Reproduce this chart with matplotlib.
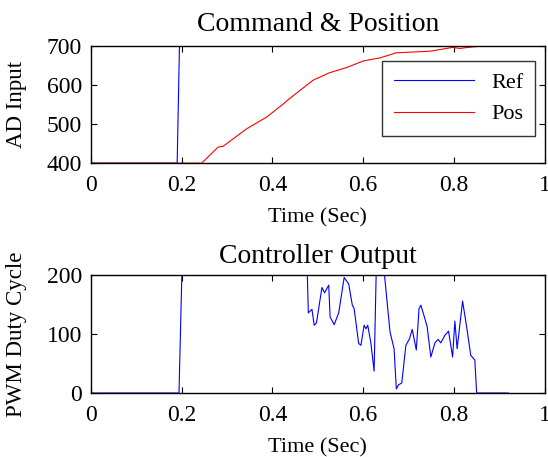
import matplotlib
matplotlib.use("Agg")
import matplotlib.pyplot as plt

plt.rcParams['font.family'] = ['Liberation Serif', 'DejaVu Serif']
plt.rcParams['mathtext.fontset'] = 'stix'

# Command & Position data
ref_t = [0, 0.19, 0.195, 0.85]
ref_y = [400, 400, 700, 700]

pos_t = [0, 0.244, 0.280, 0.291, 0.343, 0.387, 0.424, 0.435, 0.460, 0.490,
         0.526, 0.563, 0.600, 0.637, 0.673, 0.747, 0.798, 0.813, 0.831, 0.850]
pos_y = [400, 400, 441, 443, 488, 518, 552, 563, 586, 613,
         632, 645, 662, 670, 683, 687, 697, 694, 697, 699]

# Controller output data
pwm_t = [0, 0.194, 0.202, 0.475, 0.479, 0.487, 0.492, 0.497, 0.509, 0.515,
         0.524, 0.527, 0.536, 0.546, 0.558, 0.568, 0.576, 0.580, 0.590, 0.595,
         0.602, 0.606, 0.610, 0.617, 0.624, 0.630, 0.640, 0.659, 0.668, 0.673,
         0.678, 0.685, 0.694, 0.702, 0.708, 0.717, 0.723, 0.727, 0.736, 0.741,
         0.749, 0.758, 0.765, 0.771, 0.780, 0.788, 0.797, 0.802, 0.807, 0.819,
         0.828, 0.837, 0.846, 0.850, 0.920]
pwm_y = [0, 0, 255, 255, 136, 142, 115, 119, 179, 170,
         183, 129, 116, 136, 196, 185, 149, 143, 84, 81,
         115, 109, 115, 84, 37, 255, 255, 104, 75, 7,
         14, 17, 81, 92, 108, 73, 143, 149, 126, 112,
         61, 85, 91, 85, 98, 105, 61, 122, 75, 156,
         112, 64, 56, 0, 0]

xticks = [0, 0.2, 0.4, 0.6, 0.8, 1]
xlabels = ['0', '0.2', '0.4', '0.6', '0.8', '1']

fig = plt.figure(figsize=(5.48, 4.57), dpi=100)
ax1 = fig.add_axes([0.166, 0.643, 0.828, 0.256])
ax2 = fig.add_axes([0.166, 0.140, 0.828, 0.258])

ax1.plot(ref_t, ref_y, color='#0000ff', lw=0.8, label='Ref')
ax1.plot(pos_t, pos_y, color='#ff0000', lw=0.8, label='Pos')
ax1.set_ylim(400, 700)
ax1.set_yticks([400, 500, 600, 700])
ax1.set_title('Command & Position', fontsize=20, pad=11)
ax1.set_ylabel('AD Input', fontsize=16.5)
leg = ax1.legend(loc='upper right', bbox_to_anchor=(0.978, 0.872),
                 fontsize=16, frameon=True, fancybox=False,
                 edgecolor='black', handlelength=3.6, borderaxespad=0,
                 labelspacing=0.5, borderpad=0.5)
leg.get_frame().set_linewidth(1.0)

ax2.plot(pwm_t, pwm_y, color='#0000ff', lw=0.8)
ax2.set_ylim(0, 200)
ax2.set_yticks([0, 100, 200])
ax2.set_title('Controller Output', fontsize=20, pad=9)
ax2.set_ylabel('PWM Duty Cycle', fontsize=16.5)

for ax in (ax1, ax2):
    ax.set_xlim(0, 1)
    ax.set_xticks(xticks)
    ax.set_xticklabels(xlabels)
    ax.set_xlabel('Time (Sec)', fontsize=16, labelpad=9)
    ax.yaxis.set_label_coords(-0.14, 0.5)
    ax.tick_params(direction='in', top=True, right=True, labelsize=17,
                   length=4, width=0.8, pad=6.5)
    ax.tick_params(axis='x', pad=8.5)
    for s in ax.spines.values():
        s.set_linewidth(1.0)

fig.savefig('out.png', dpi=100)
